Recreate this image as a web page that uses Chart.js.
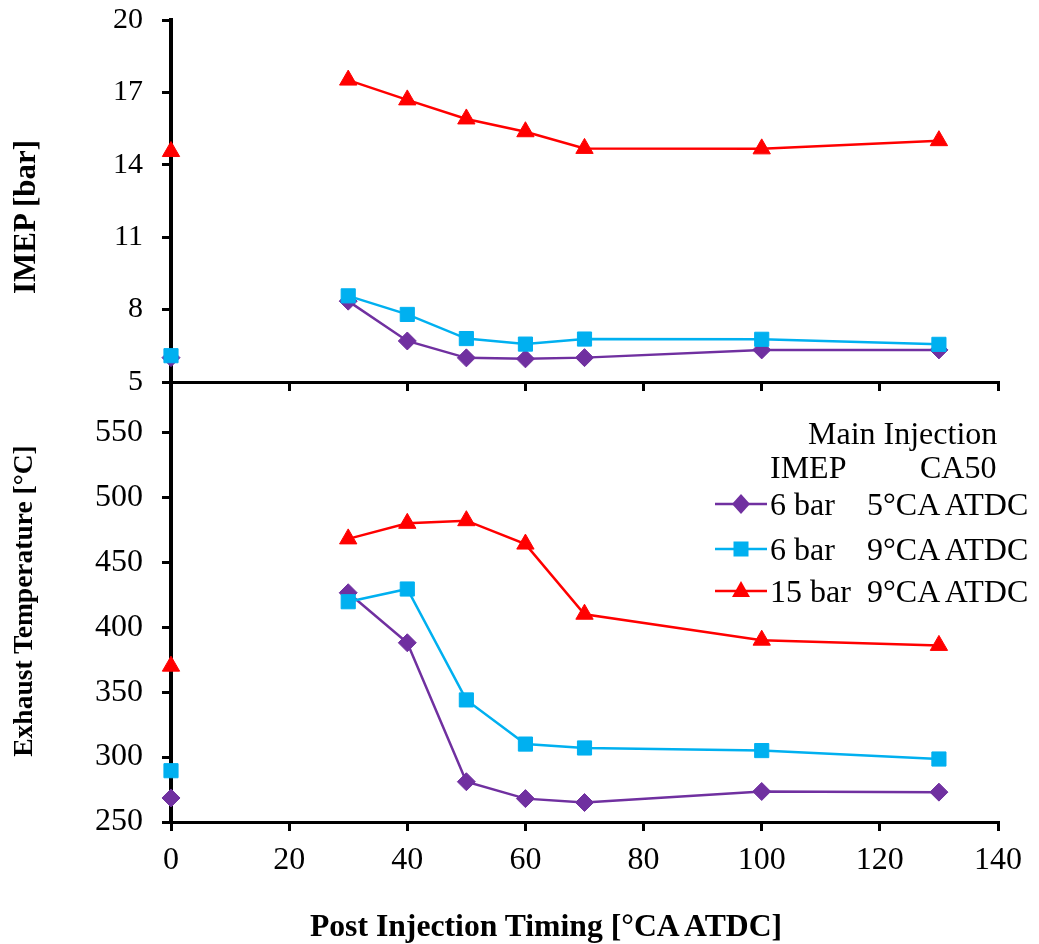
<!DOCTYPE html>
<html><head><meta charset="utf-8">
<script src="https://cdn.jsdelivr.net/npm/chart.js@4.4.1/dist/chart.umd.min.js"></script>
<style>
html,body{margin:0;padding:0;background:#fff;}
body{width:1039px;height:944px;position:relative;overflow:hidden;font-family:'Liberation Serif','Times New Roman',serif;}
canvas{position:absolute;left:0;}
#c1{top:0;}
#c2{top:370px;}
.lg{position:absolute;font-size:32px;line-height:32px;color:#000;white-space:nowrap;}
.mk{position:absolute;}
.ttl{position:absolute;left:0;top:0;font-weight:bold;color:#000;white-space:nowrap;line-height:1;}
</style></head><body>
<canvas id="c1" width="1039" height="394"></canvas>
<canvas id="c2" width="1039" height="574"></canvas>
<div id="legend"></div>
<div id="titles"></div>
<script>
// ---- data ----
const postTiming = [30, 40, 50, 60, 70, 100, 130];
const baseTiming = [0];
const xTicks = [0, 20, 40, 60, 80, 100, 120, 140];
const imepTicks = [5, 8, 11, 14, 17, 20];
const tempTicks = [250, 300, 350, 400, 450, 500, 550];

const seriesImep = ['6 bar', '6 bar', '15 bar'];
const seriesCA50 = ['5°CA ATDC', '9°CA ATDC', '9°CA ATDC'];
const seriesColors = ['#7030A0', '#00B0F0', '#FF0000'];
const seriesStyles = ['rectRot', 'rect', 'triangle'];
const seriesRadius = [9, 10, 10];

const imep6bar5 = [8.35, 6.70, 6.00, 5.96, 6.01, 6.33, 6.33];
const imep6bar9 = [8.57, 7.80, 6.80, 6.57, 6.78, 6.77, 6.56];
const imep15bar9 = [17.51, 16.69, 15.90, 15.37, 14.68, 14.66, 15.00];
const imepBase6bar5 = [6.01];
const imepBase6bar9 = [6.09];
const imepBase15bar9 = [14.55];

const temp6bar5 = [426.5, 388, 281, 268, 265, 273.5, 273];
const temp6bar9 = [419.6, 429.4, 344, 310, 307, 305, 298.5];
const temp15bar9 = [468, 480, 482, 464, 410, 390, 386];
const tempBase6bar5 = [268.5];
const tempBase6bar9 = [289.5];
const tempBase15bar9 = [370];

const titleImep = 'IMEP [bar]';
const titleTemp = 'Exhaust Temperature [°C]';
const titleX = 'Post Injection Timing [°CA ATDC]';

// ---- helpers ----
const FONT = "'Liberation Serif','Times New Roman',serif";
Chart.defaults.font.family = FONT;
Chart.defaults.color = '#000';

function pts(xs, ys) { return xs.map((x, i) => ({x: x, y: ys[i]})); }

function makeDatasets(lines, bases) {
  const ds = [];
  for (let i = 0; i < 3; i++) {
    const common = {
      borderColor: seriesColors[i], backgroundColor: seriesColors[i],
      pointBackgroundColor: seriesColors[i], pointBorderColor: seriesColors[i],
      pointBorderWidth: 1, pointStyle: seriesStyles[i], pointRadius: seriesRadius[i],
      pointHoverRadius: seriesRadius[i], borderWidth: 2.5, tension: 0,
      clip: false, order: 2 - i
    };
    ds.push(Object.assign({label: seriesImep[i] + ' ' + seriesCA50[i], data: pts(postTiming, lines[i]), showLine: true}, common));
    ds.push(Object.assign({label: 'base', data: pts(baseTiming, bases[i]), showLine: false}, common));
  }
  return ds;
}

function tickSetter(arr) { return s => { s.ticks = arr.map(v => ({value: v})); }; }

const gridOpts = {drawOnChartArea: false, drawTicks: true, tickLength: 9, color: '#000', lineWidth: 3};

// ---- top chart (IMEP) ----
new Chart(document.getElementById('c1'), {
  type: 'scatter',
  data: {datasets: makeDatasets([imep6bar5, imep6bar9, imep15bar9], [imepBase6bar5, imepBase6bar9, imepBase15bar9])},
  options: {
    responsive: false, animation: false, devicePixelRatio: 1,
    layout: {padding: {left: 0, right: 41, top: 20, bottom: 0}},
    plugins: {legend: {display: false}, tooltip: {enabled: false}},
    scales: {
      x: {
        type: 'linear', min: 0, max: 140,
        afterBuildTicks: tickSetter(xTicks),
        ticks: {display: false},
        grid: gridOpts,
        border: {display: true, color: '#000', width: 3},
        afterFit: s => { s.height = 12; }
      },
      y: {
        type: 'linear', min: 5, max: 20,
        afterBuildTicks: tickSetter(imepTicks),
        ticks: {padding: 19, font: {size: 30}, color: '#000'},
        grid: gridOpts,
        border: {display: true, color: '#000', width: 4},
        afterFit: s => { s.width = 171; s.paddingTop = 0; s.paddingBottom = 0; }
      }
    }
  }
});

// ---- bottom chart (Exhaust temperature) ----
new Chart(document.getElementById('c2'), {
  type: 'scatter',
  data: {datasets: makeDatasets([temp6bar5, temp6bar9, temp15bar9], [tempBase6bar5, tempBase6bar9, tempBase15bar9])},
  options: {
    responsive: false, animation: false, devicePixelRatio: 1,
    layout: {padding: {left: 0, right: 41, top: 12, bottom: 0}},
    plugins: {legend: {display: false}, tooltip: {enabled: false}},
    scales: {
      x: {
        type: 'linear', min: 0, max: 140,
        afterBuildTicks: tickSetter(xTicks),
        ticks: {padding: 10, font: {size: 32}, color: '#000'},
        grid: gridOpts,
        border: {display: true, color: '#000', width: 3},
        afterFit: s => { s.height = 122; s.paddingLeft = 0; s.paddingRight = 0; }
      },
      y: {
        type: 'linear', min: 250, max: 588.8,
        afterBuildTicks: tickSetter(tempTicks),
        ticks: {padding: 19, font: {size: 32}, color: '#000'},
        grid: gridOpts,
        border: {display: true, color: '#000', width: 4},
        afterFit: s => { s.width = 171; s.paddingTop = 0; s.paddingBottom = 0; }
      }
    }
  }
});

// ---- axis titles (HTML) ----
(function () {
  const T = document.getElementById('titles');
  function title(t, cx, cy, size, rot) {
    const d = document.createElement('div');
    d.className = 'ttl'; d.textContent = t;
    d.style.fontSize = size + 'px';
    d.style.transform = 'translate(' + cx + 'px,' + cy + 'px) translate(-50%,-50%)' + (rot ? ' rotate(-90deg)' : '');
    T.appendChild(d);
  }
  title(titleImep, 24, 217, 31, true);
  title(titleTemp, 22.5, 601, 27.5, true);
  title(titleX, 546, 926, 31.7, false);
})();

// ---- legend (HTML) ----
(function () {
  const L = document.getElementById('legend');
  function text(t, left, cy) {
    const d = document.createElement('div');
    d.className = 'lg'; d.textContent = t;
    d.style.left = left + 'px'; d.style.top = (cy - 16) + 'px';
    L.appendChild(d);
  }
  text('Main Injection', 808, 433);
  text('IMEP', 770, 467);
  text('CA50', 920, 467);
  const rowsY = [504, 549, 591];
  const ns = 'http://www.w3.org/2000/svg';
  for (let i = 0; i < 3; i++) {
    const cy = rowsY[i];
    const svg = document.createElementNS(ns, 'svg');
    svg.setAttribute('class', 'mk');
    svg.setAttribute('width', '56'); svg.setAttribute('height', '24');
    svg.style.left = '713px'; svg.style.top = (cy - 12) + 'px';
    const ln = document.createElementNS(ns, 'line');
    ln.setAttribute('x1', '2'); ln.setAttribute('x2', '54'); ln.setAttribute('y1', '12'); ln.setAttribute('y2', '12');
    ln.setAttribute('stroke', seriesColors[i]); ln.setAttribute('stroke-width', '2.5');
    svg.appendChild(ln);
    let m;
    const c = seriesColors[i];
    if (seriesStyles[i] === 'rectRot') {
      m = document.createElementNS(ns, 'polygon');
      m.setAttribute('points', '28,2 37,12 28,22 19,12');
    } else if (seriesStyles[i] === 'rect') {
      m = document.createElementNS(ns, 'rect');
      m.setAttribute('x', '20.5'); m.setAttribute('y', '4.5'); m.setAttribute('width', '15'); m.setAttribute('height', '15');
    } else {
      m = document.createElementNS(ns, 'polygon');
      m.setAttribute('points', '28,2 37,18 19,18');
    }
    m.setAttribute('fill', c);
    svg.appendChild(m);
    L.appendChild(svg);
    text(seriesImep[i], 770, cy);
    text(seriesCA50[i], 867, cy);
  }
})();
</script>
</body></html>
